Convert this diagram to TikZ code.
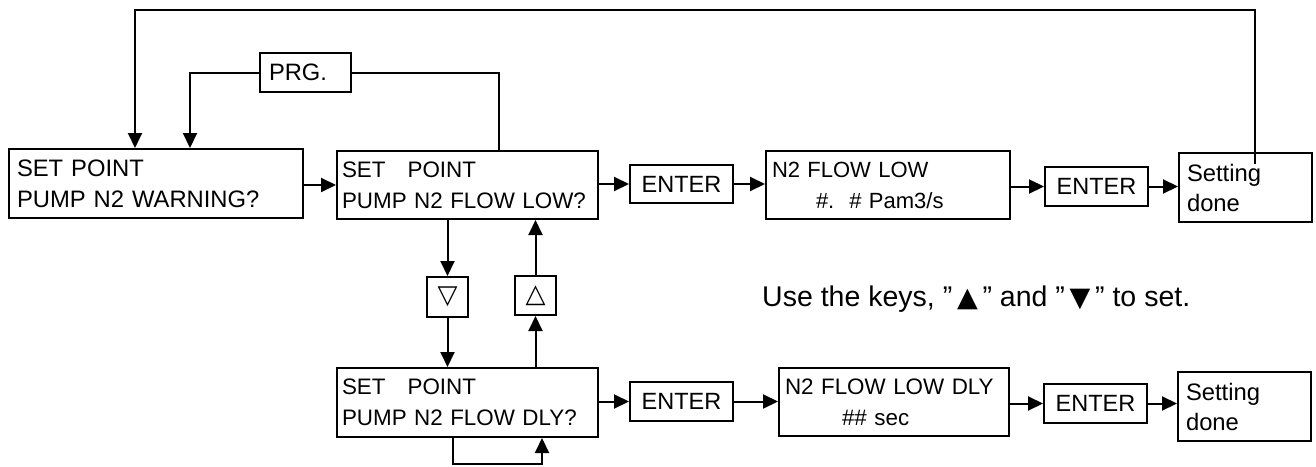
\documentclass[tikz,border=0pt]{standalone}
\usepackage{fontspec}
\setmainfont{Liberation Sans}
\newfontfamily\symfont{DejaVu Sans}
\usetikzlibrary{arrows.meta}
\newcommand\keytri[1]{{\symfont\fontsize{27}{30}\selectfont #1}}
\begin{document}
\begin{tikzpicture}[x=1pt,y=-1pt,
  panel/.style={draw, line width=2pt, align=left, inner ysep=0pt, font=\fontsize{22.4}{31}\selectfont},
  keybox/.style={draw, line width=2pt, inner sep=0pt, minimum width=103pt, minimum height=38.5pt, font=\fontsize{23.5}{28}\selectfont},
  arr/.style={line width=2pt, -{Triangle[length=15pt,width=14pt]}},
  wire/.style={line width=2pt}]
\useasboundingbox (0,0) rectangle (1316,466);
% panels
\node[panel, inner xsep=8pt, text width=278pt, minimum height=69pt, font=\fontsize{23.8}{31}\selectfont] (A) at (156,183.5) {SET POINT\\PUMP N2 WARNING?};
\node[panel, inner xsep=5pt, text width=251pt, minimum height=68pt] (B) at (467.5,185) {SET\hspace{22pt}POINT\\PUMP N2 FLOW LOW?};
\node[panel, inner xsep=6pt, text width=232pt, minimum height=68pt, font=\fontsize{22}{31}\selectfont] (C) at (888,185) {N2 FLOW LOW\\\hspace*{44pt}\#.\hspace{15pt}\# Pam3/s};
\node[panel, inner xsep=5pt, text width=251pt, minimum height=69pt] (D) at (467.5,402.5) {SET\hspace{22pt}POINT\\PUMP N2 FLOW DLY?};
\node[panel, inner xsep=6pt, text width=218pt, minimum height=68pt] (E) at (894,402) {N2 FLOW LOW DLY\\\hspace*{57pt}\#\# sec};
\node[panel, inner xsep=8pt, text width=117pt, minimum height=69pt, font=\fontsize{23.8}{30}\selectfont] (S1) at (1245.5,187.5) {Setting\\done};
\node[panel, inner xsep=8pt, text width=117pt, minimum height=69pt, font=\fontsize{23.8}{30}\selectfont] (S2) at (1244.5,406.5) {Setting\\done};
% keys
\node[keybox] (E1) at (681.5,184) {ENTER};
\node[keybox] (E2) at (1096.5,186.5) {ENTER};
\node[keybox] (E3) at (681.5,401.5) {ENTER};
\node[keybox] (E4) at (1095.5,403.5) {ENTER};
\node[panel, inner xsep=9pt, text width=73pt, minimum height=39pt, font=\fontsize{23.7}{28}\selectfont] (PRG) at (305.5,72.5) {PRG.};
\node[keybox, minimum width=41pt, minimum height=40pt, font=\symfont\fontsize{26}{28}\selectfont] (DN) at (447.5,297) {▽};
\node[keybox, minimum width=41pt, minimum height=39pt, font=\symfont\fontsize{26}{28}\selectfont] (UP) at (535.5,295.5) {△};
% note
\node[anchor=base west, inner sep=0pt, font=\fontsize{28.5}{32}\selectfont] (note) at (762,306) {Use the keys, ”\,\keytri{▲}\,” and ”\,\keytri{▼}\,” to set.};
% connectors
\draw[arr] (A.east |- B.west) -- (B.west);
\draw[arr] (B.east |- E1.west) -- (E1.west);
\draw[arr] (E1.east) -- (E1.east -| C.west);
\draw[arr] (C.east |- E2.west) -- (E2.west);
\draw[arr] (E2.east) -- (E2.east -| S1.west);
\draw[arr] (D.east |- E3.west) -- (E3.west);
\draw[arr] (E3.east) -- (E3.east -| E.west);
\draw[arr] (E.east |- E4.west) -- (E4.west);
\draw[arr] (E4.east) -- (E4.east -| S2.west);
\coordinate (t0) at (1255,164);
\coordinate (tl) at (135,10);
\draw[arr] (t0) |- (tl) -- (tl |- A.north);
\draw[wire] ([xshift=31.5pt]B.north) |- (PRG.east);
\draw[arr] (PRG.west) -| ([xshift=34pt]A.north);
\draw[arr] (B.south -| DN.north) -- (DN.north);
\draw[arr] (DN.south) -- (DN.south |- D.north);
\draw[arr] (D.north -| UP.south) -- (UP.south);
\draw[arr] (UP.north) -- (UP.north |- B.south);
\draw[arr] ([xshift=-14.5pt]D.south) -- ++(0,26) -| ([xshift=74.5pt]D.south);
\end{tikzpicture}
\end{document}
